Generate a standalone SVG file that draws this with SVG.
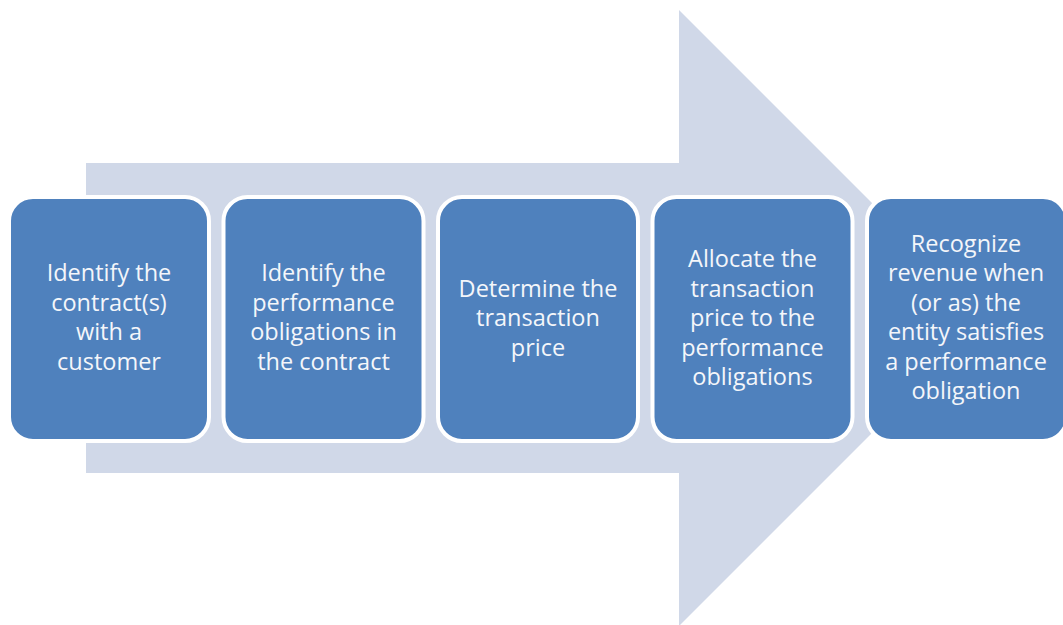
<svg xmlns="http://www.w3.org/2000/svg" width="1063" height="625" viewBox="0 0 1063 625">
  <style>
    .step { fill: #4F81BD; stroke: #FFFFFF; stroke-width: 4; }
    .label { font-family: "Open Sans", "Liberation Sans", Arial, sans-serif; font-size: 23.5px; fill: #F4F6FA; text-anchor: middle; }
  </style>
  <rect width="1063" height="625" fill="#FFFFFF"/>
  <!-- background process arrow -->
  <g id="connectors">
    <polygon points="86,163 679,163 679,10 987,318 679,626 679,473 86,473" fill="#D0D8E8"/>
  </g>
  <g id="step1">
    <rect class="step" x="9" y="197" width="200" height="244" rx="24"/>
    <text class="label"><tspan x="109" y="281">Identify the</tspan><tspan x="109" y="311">contract(s)</tspan><tspan x="109" y="340">with a</tspan><tspan x="109" y="370">customer</tspan></text>
  </g>
  <g id="step2">
    <rect class="step" x="223.5" y="197" width="200" height="244" rx="24"/>
    <text class="label"><tspan x="323.5" y="281">Identify the</tspan><tspan x="323.5" y="311">performance</tspan><tspan x="323.5" y="340">obligations in</tspan><tspan x="323.5" y="370">the contract</tspan></text>
  </g>
  <g id="step3">
    <rect class="step" x="438" y="197" width="200" height="244" rx="24"/>
    <text class="label"><tspan x="538" y="297">Determine the</tspan><tspan x="538" y="326">transaction</tspan><tspan x="538" y="356">price</tspan></text>
  </g>
  <g id="step4">
    <rect class="step" x="652.5" y="197" width="200" height="244" rx="24"/>
    <text class="label"><tspan x="752.5" y="267">Allocate the</tspan><tspan x="752.5" y="297">transaction</tspan><tspan x="752.5" y="326">price to the</tspan><tspan x="752.5" y="356">performance</tspan><tspan x="752.5" y="385">obligations</tspan></text>
  </g>
  <g id="step5">
    <rect class="step" x="867" y="197" width="200" height="244" rx="24"/>
    <text class="label"><tspan x="966" y="252">Recognize</tspan><tspan x="966" y="281">revenue when</tspan><tspan x="966" y="311">(or as) the</tspan><tspan x="966" y="340">entity satisfies</tspan><tspan x="966" y="370">a performance</tspan><tspan x="966" y="399">obligation</tspan></text>
  </g>
</svg>
